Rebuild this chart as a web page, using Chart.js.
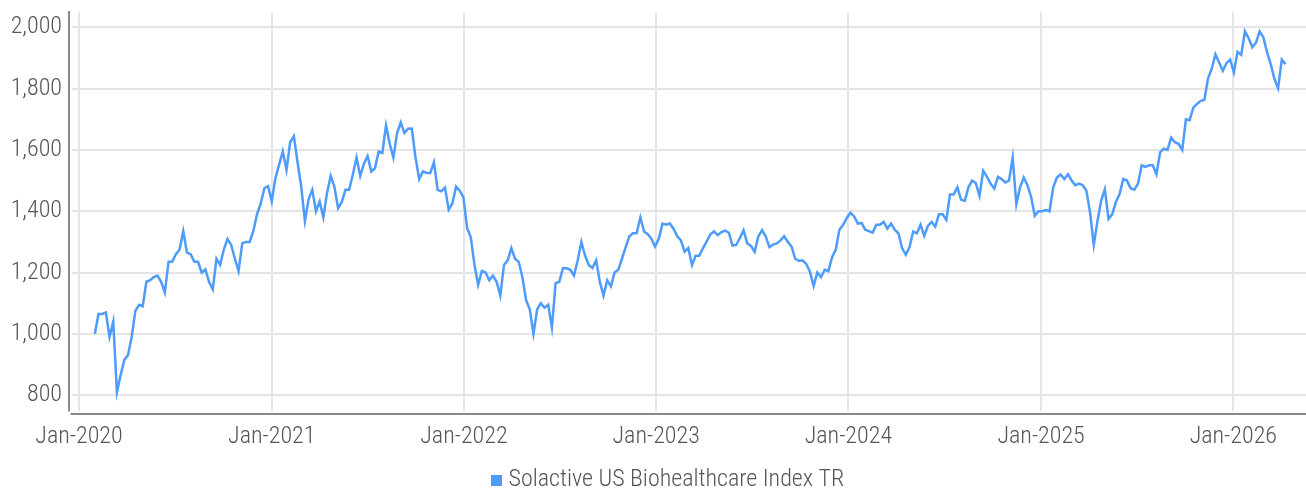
<!DOCTYPE html>
<html><head><meta charset="utf-8">
<script src="https://cdn.jsdelivr.net/npm/chart.js@4"></script>
<style>html,body{margin:0;padding:0;background:#fff}canvas{display:block}</style>
</head><body>
<canvas id="c" width="1306" height="494"></canvas>
<script>
const seriesName = 'Solactive US Biohealthcare Index TR';
const startDate = '2020-01-31';
const stepDays = 7;
const values = [
1000,1065,1065,1070,990,1040,810,865,915,930,
990,1075,1095,1090,1170,1175,1185,1190,1170,1135,
1235,1235,1260,1275,1335,1265,1260,1235,1235,1200,
1210,1170,1145,1245,1225,1275,1310,1290,1245,1205,
1295,1300,1300,1335,1390,1425,1475,1482,1432,1508,
1552,1595,1535,1625,1645,1560,1480,1368,1440,1470,
1400,1432,1380,1460,1515,1480,1410,1430,1470,1470,
1520,1575,1515,1555,1580,1530,1540,1595,1590,1680,
1620,1575,1655,1690,1655,1669,1670,1575,1505,1530,
1525,1525,1560,1470,1465,1477,1405,1425,1480,1467,
1445,1345,1315,1225,1160,1205,1200,1175,1190,1170,
1125,1225,1240,1280,1245,1235,1185,1110,1080,1000,
1080,1100,1085,1095,1020,1165,1170,1215,1214,1209,
1190,1240,1300,1255,1225,1215,1240,1170,1125,1175,
1155,1200,1209,1245,1282,1318,1328,1329,1380,1334,
1325,1310,1285,1310,1360,1356,1360,1343,1318,1305,
1268,1280,1225,1255,1255,1280,1302,1325,1334,1322,
1332,1337,1330,1288,1290,1313,1338,1295,1287,1268,
1318,1338,1318,1283,1291,1295,1305,1318,1300,1285,
1245,1238,1240,1228,1203,1156,1200,1185,1209,1205,
1250,1275,1340,1356,1378,1395,1383,1360,1362,1340,
1335,1330,1356,1356,1365,1343,1360,1340,1328,1280,
1258,1282,1334,1328,1356,1320,1352,1365,1350,1390,
1390,1372,1455,1455,1478,1438,1434,1478,1500,1492,
1450,1532,1513,1490,1474,1512,1505,1494,1500,1575,
1423,1478,1510,1485,1447,1385,1400,1400,1404,1400,
1478,1510,1520,1505,1521,1500,1485,1490,1485,1467,
1395,1290,1368,1435,1472,1375,1390,1430,1456,1505,
1500,1475,1470,1490,1550,1545,1550,1550,1521,1592,
1604,1600,1640,1625,1620,1600,1700,1697,1738,1750,
1760,1763,1834,1865,1912,1885,1858,1883,1895,1853,
1920,1910,1987,1965,1935,1950,1987,1968,1918,1880,
1832,1801,1895,1880
];
const yTicks = [800, 1000, 1200, 1400, 1600, 1800, 2000];
const xTickYears = [2020, 2021, 2022, 2023, 2024, 2025, 2026];
const xTickLabels = ['Jan-2020','Jan-2021','Jan-2022','Jan-2023','Jan-2024','Jan-2025','Jan-2026'];

const DAY = 86400000;
const origin = Date.UTC(2020, 0, 1);
const start = Date.parse(startDate);
const points = values.map((v, i) => ({ x: (start - origin) / DAY + i * stepDays, y: v }));
const xTickPos = xTickYears.map(y => (Date.UTC(y, 0, 1) - origin) / DAY);

const BLUE = '#4d9bfb';
const GRID = '#e5e5e5';
const TEXT = '#555555';
const FONT = { family: 'Roboto', size: 24, weight: '300 condensed' };

// legend swatch: small square
const swatch = document.createElement('canvas');
swatch.width = 11; swatch.height = 11;
(function () { const g = swatch.getContext('2d'); g.fillStyle = BLUE; g.fillRect(0, 0, 11, 11); })();

const axisLines = {
  id: 'axisLines',
  afterLayout(chart) {
    const lg = chart.legend;
    if (lg) {
      const h = lg.height, w = lg.width;
      lg.top = 460; lg.bottom = 460 + h;
      lg.left = 488.5; lg.right = 488.5 + w;
    }
  },
  afterDatasetsDraw(chart) {
    const { ctx, chartArea: a } = chart;
    ctx.save();
    ctx.strokeStyle = '#8a8a8a';
    ctx.lineWidth = 2;
    ctx.beginPath();
    ctx.moveTo(a.left - 3, a.top - 1);
    ctx.lineTo(a.left - 3, a.bottom + 1);
    ctx.moveTo(a.left - 1.5, a.bottom + 3.5);
    ctx.lineTo(a.right, a.bottom + 3.5);
    ctx.stroke();
    ctx.restore();
  }
};

const noPad = s => { s.paddingTop = 0; s.paddingBottom = 0; s.paddingLeft = 0; s.paddingRight = 0; };

new Chart(document.getElementById('c'), {
  type: 'line',
  data: {
    datasets: [{
      label: seriesName,
      data: points,
      borderColor: BLUE,
      backgroundColor: BLUE,
      borderWidth: 2.5,
      pointRadius: 0,
      tension: 0,
      fill: false
    }]
  },
  options: {
    responsive: false,
    animation: false,
    layout: { padding: { top: 12, right: 0, bottom: 0, left: 0 } },
    scales: {
      x: {
        type: 'linear',
        min: -13.3,
        max: 2330,
        afterBuildTicks: s => { s.ticks = xTickPos.map(v => ({ value: v })); },
        afterFit: s => { s.height = 41.5; noPad(s); },
        ticks: {
          autoSkip: false,
          maxRotation: 0,
          padding: 12.5,
          color: TEXT,
          font: FONT,
          callback: (v, i) => xTickLabels[i]
        },
        grid: { color: GRID, lineWidth: 2, drawTicks: false },
        border: { display: false }
      },
      y: {
        min: 750,
        max: 2050,
        afterBuildTicks: s => { s.ticks = yTicks.map(v => ({ value: v })); },
        afterFit: s => { s.width = 72; noPad(s); },
        ticks: {
          padding: 10,
          color: TEXT,
          font: FONT,
          callback: v => v.toLocaleString('en-US')
        },
        grid: { color: GRID, lineWidth: 2, drawTicks: false },
        border: { display: false }
      }
    },
    plugins: {
      legend: {
        position: 'bottom',
        align: 'start',
        labels: {
          usePointStyle: true,
          boxWidth: 0.01,
          boxHeight: 11,
          padding: 8,
          color: TEXT,
          font: FONT,
          generateLabels(chart) {
            const items = Chart.defaults.plugins.legend.labels.generateLabels(chart);
            items.forEach(it => { it.lineWidth = 0; it.fillStyle = BLUE; it.strokeStyle = BLUE; it.pointStyle = swatch; });
            return items;
          }
        }
      },
      tooltip: { enabled: false }
    }
  },
  plugins: [axisLines]
});
</script>
</body></html>
